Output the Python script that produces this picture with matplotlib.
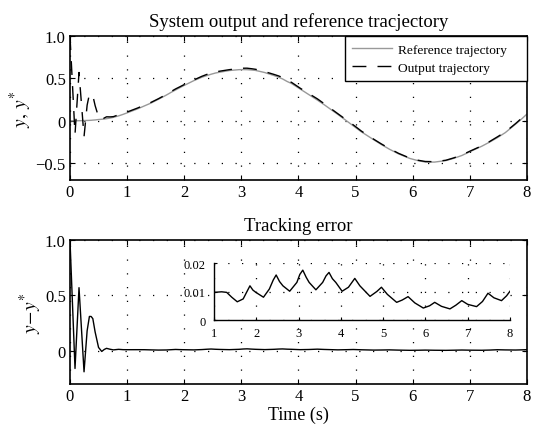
import numpy as np
import matplotlib
matplotlib.use("Agg")
import matplotlib.pyplot as plt

plt.rcParams['font.family'] = ['Liberation Serif', 'DejaVu Serif']
plt.rcParams['mathtext.fontset'] = 'stix'

# time grid (s), shared by reference and error
t = [0, 0.088, 0.158, 0.246, 0.30, 0.34, 0.37, 0.40, 0.44, 0.50, 0.556, 0.60, 0.64,
     0.70, 0.76, 0.85, 0.93,
     1.0, 1.18, 1.30, 1.42, 1.55, 1.69, 1.78, 1.85, 1.92, 1.99, 2.17, 2.31, 2.40,
     2.47, 2.55, 2.63, 2.79, 2.96, 3.03, 3.10, 3.18, 3.25, 3.41, 3.57, 3.65, 3.72,
     3.80, 3.88, 4.03, 4.18, 4.33, 4.45, 4.69, 4.85, 4.96, 5.10, 5.32, 5.45, 5.59,
     5.75, 5.95, 6.10, 6.22, 6.38, 6.58, 6.72, 6.86, 7.00, 7.21, 7.35, 7.48, 7.62,
     7.80, 7.92, 8.00]

# reference trajectory y*
y_ref = [0, 0.0002, 0.0008, 0.003, 0.004, 0.005, 0.006, 0.008, 0.010, 0.015, 0.018,
         0.021, 0.025, 0.032, 0.041, 0.058, 0.076,
         0.094, 0.14, 0.175, 0.21, 0.255, 0.305, 0.34, 0.365, 0.39, 0.415, 0.475,
         0.515, 0.535, 0.55, 0.565, 0.575, 0.594, 0.604, 0.605, 0.604, 0.60, 0.595,
         0.57, 0.535, 0.515, 0.495, 0.465, 0.44, 0.375, 0.31, 0.245, 0.19, 0.075,
         -0.005, -0.06, -0.13, -0.225, -0.28, -0.335, -0.39, -0.445, -0.472, -0.487,
         -0.488, -0.47, -0.443, -0.41, -0.365, -0.30, -0.25, -0.20, -0.14, -0.04,
         0.03, 0.08]

# tracking error y - y*
err = [1.0, -0.16, 0.57, -0.19, 0.18, 0.31, 0.31, 0.29, 0.17, 0.03, -0.006, 0.012,
       0.022, 0.014, 0.008, 0.013, 0.010,
       0.0097, 0.0099, 0.0097, 0.0080, 0.0064, 0.0074, 0.0100, 0.0120, 0.0105,
       0.0097, 0.0080, 0.0109, 0.0140, 0.0158, 0.0135, 0.0120, 0.0101, 0.0132,
       0.0160, 0.0175, 0.0150, 0.0132, 0.0106, 0.0132, 0.0155, 0.0167, 0.0145,
       0.0132, 0.0101, 0.0115, 0.0146, 0.0120, 0.0083, 0.0100, 0.0115, 0.0090,
       0.0062, 0.0070, 0.0082, 0.0060, 0.0042, 0.0050, 0.0062, 0.0048, 0.0039,
       0.0052, 0.0068, 0.0055, 0.0047, 0.0065, 0.0094, 0.0078, 0.0068, 0.0085,
       0.0101]

x_ticks = [0, 1, 2, 3, 4, 5, 6, 7, 8]
top_yticks = [-0.5, 0, 0.5, 1.0]
top_ylabels = ['\u22120.5', '0', '0.5', '1.0']
bot_yticks = [0, 0.5, 1.0]
bot_ylabels = ['0', '0.5', '1.0']
ins_xticks = [1, 2, 3, 4, 5, 6, 7, 8]
ins_yticks = [0, 0.01, 0.02]
ins_ylabels = ['0', '0.01', '0.02']

t = np.array(t)
y_ref = np.array(y_ref)
err = np.array(err)
y_out = y_ref + err


def style_axes(ax, fs=12, lw=1.2):
    for s in ax.spines.values():
        s.set_linewidth(lw)
    ax.tick_params(direction='in', top=True, right=True, length=3.5, width=0.8,
                   labelsize=fs, pad=3)
    ax.grid(True, color='black', linestyle=(0, (1, 10)), linewidth=0.9)


fig = plt.figure(figsize=(5.33, 4.27), dpi=100)

ax1 = fig.add_axes([0.1313, 0.576, 0.8574, 0.337])
ax1.plot(t, y_ref, color='#999999', lw=1.0, label='Reference trajectory')
ax1.plot(t, y_out, color='black', lw=1.0, linestyle=(0, (10, 8)),
         label='Output trajectory')
ax1.set_xlim(0, 8)
ax1.set_ylim(-0.7, 1.0)
ax1.set_xticks(x_ticks)
ax1.set_yticks(top_yticks)
ax1.set_yticklabels(top_ylabels)
style_axes(ax1)
ax1.set_title('System output and reference tracjectory', fontsize=13.5, pad=7)
ax1.set_ylabel(r'$y,\, y^{*}$', fontsize=14, labelpad=1)
# legend box stretched to the MATLAB-like width
leg = ax1.legend(loc='upper right', bbox_to_anchor=(0.602, 0.0, 0.398, 1.0),
                 mode='expand', fontsize=9.6,
                 handlelength=3.0, handletextpad=0.4, fancybox=False,
                 borderpad=0.55, labelspacing=0.45,
                 borderaxespad=0, framealpha=1, edgecolor='black')
leg.get_frame().set_linewidth(1.0)

ax2 = fig.add_axes([0.1313, 0.0984, 0.8574, 0.337])
ax2.plot(t, err, color='black', lw=1.0)
ax2.set_xlim(0, 8)
ax2.set_ylim(-0.3, 1.0)
ax2.set_xticks(x_ticks)
ax2.set_yticks(bot_yticks)
ax2.set_yticklabels(bot_ylabels)
style_axes(ax2)
ax2.set_title('Tracking error', fontsize=13.5, pad=7)
ax2.set_ylabel(r'$y\!-\!y^{*}$', fontsize=14, labelpad=1)
ax2.set_xlabel('Time (s)', fontsize=13, labelpad=1)

# zoomed inset of the error after 1 s
ax3 = fig.add_axes([0.4015, 0.2482, 0.5553, 0.1335])
mask = t >= 1.0
ax3.plot(t[mask], err[mask], color='black', lw=1.0)
ax3.set_xlim(1, 8)
ax3.set_ylim(0, 0.02)
ax3.set_xticks(ins_xticks)
ax3.set_yticks(ins_yticks)
ax3.set_yticklabels(ins_ylabels)
ax3.spines['top'].set_visible(False)
ax3.spines['right'].set_visible(False)
for s in ['left', 'bottom']:
    ax3.spines[s].set_linewidth(1.0)
ax3.tick_params(direction='in', length=2.5, width=0.8, labelsize=9)
ax3.tick_params(axis='y', pad=6)
ax3.tick_params(axis='x', pad=5)
ax3.grid(True, color='black', linestyle=(0, (1, 10)), linewidth=0.9)

fig.savefig('out.png', dpi=100)
